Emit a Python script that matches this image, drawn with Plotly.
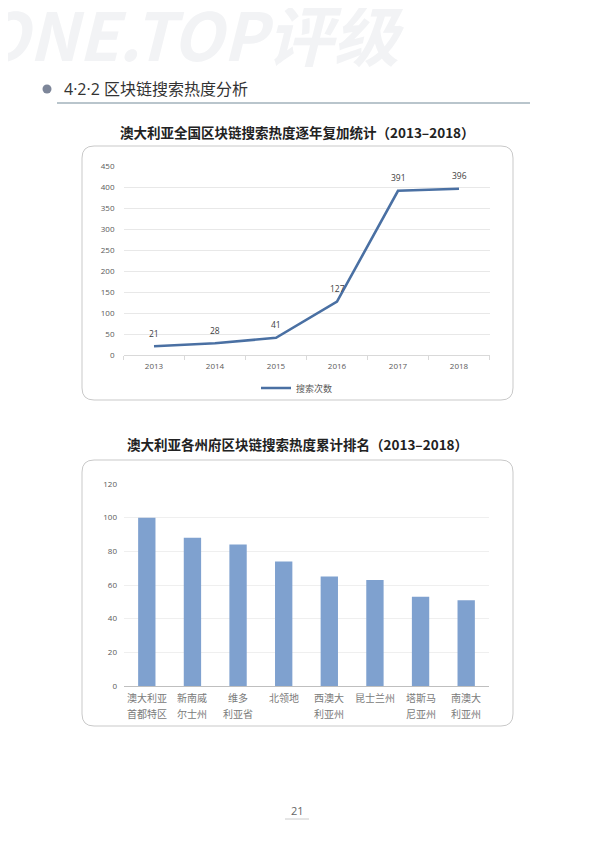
import plotly.graph_objects as go

W, H = 595, 841
OFF = 8  # page body margin of the browser

# ---- data ----
years = ["2013", "2014", "2015", "2016", "2017", "2018"]
searches = [21, 28, 41, 127, 391, 396]
line_yticks = [0, 50, 100, 150, 200, 250, 300, 350, 400, 450]

states = ["澳大利亚首都特区", "新南威尔士州", "维多利亚省", "北领地",
          "西澳大利亚州", "昆士兰州", "塔斯马尼亚州", "南澳大利亚州"]
state_label_lines = [["澳大利亚", "首都特区"], ["新南威", "尔士州"], ["维多", "利亚省"],
                     ["北领地"], ["西澳大", "利亚州"], ["昆士兰州"],
                     ["塔斯马", "尼亚州"], ["南澳大", "利亚州"]]
state_values = [100, 88, 84, 74, 65, 63, 53, 51]
bar_yticks = [0, 20, 40, 60, 80, 100, 120]

FONT = "Noto Sans CJK SC"
LATIN = "Open Sans, Noto Sans CJK SC"

def px(x):
    return (x - OFF) / W

def py(y):
    return 1 - (y - OFF) / H

def rounded_rect(x0, y0, x1, y1, r):
    rx, ry = r / W, r / H
    X0, X1 = px(x0), px(x1)
    Y0, Y1 = py(y0), py(y1)
    return (f"M {X0+rx},{Y0} L {X1-rx},{Y0} Q {X1},{Y0} {X1},{Y0-ry} "
            f"L {X1},{Y1+ry} Q {X1},{Y1} {X1-rx},{Y1} "
            f"L {X0+rx},{Y1} Q {X0},{Y1} {X0},{Y1+ry} "
            f"L {X0},{Y0-ry} Q {X0},{Y0} {X0+rx},{Y0} Z")

fig = go.Figure()

fig.add_trace(go.Scatter(
    x=years, y=searches, mode="lines", name="搜索次数",
    line=dict(color="#4a70a3", width=2.6),
    xaxis="x", yaxis="y", showlegend=True,
))

fig.add_trace(go.Bar(
    x=states, y=state_values, marker=dict(color="#7fa1cf", line=dict(width=0)),
    xaxis="x2", yaxis="y2", showlegend=False,
))

annotations = []
for i, v in enumerate(searches):
    annotations.append(dict(x=i, y=v, xref="x", yref="y", text=str(v),
                            showarrow=False, yshift=13,
                            font=dict(family=LATIN, size=8.5, color="#404040")))

# category labels of the bar chart (two lines, wider line spacing)
for name, lines in zip(states, state_label_lines):
    for k, ln in enumerate(lines):
        annotations.append(dict(x=name, y=0, xref="x2", yref="y2", text=ln,
                                showarrow=False, xanchor="center", yanchor="middle",
                                yshift=-11 - 16 * k,
                                font=dict(family=FONT, size=10, color="#7a7a7a")))

# watermark
annotations.append(dict(x=px(-24), y=py(32), xref="paper", yref="paper",
                        xanchor="left", yanchor="middle", showarrow=False,
                        text="<b><i>ONE.TOP评级</i></b>",
                        font=dict(family=FONT, size=66, color="#f2f3f5")))
# heading
annotations.append(dict(x=px(62), y=py(89), xref="paper", yref="paper",
                        xanchor="left", yanchor="middle", showarrow=False,
                        text="4·2·2 区块链搜索热度分析",
                        font=dict(family=LATIN, size=16, color="#333333")))
# chart titles
annotations.append(dict(x=px(297), y=py(132), xref="paper", yref="paper",
                        xanchor="center", yanchor="middle", showarrow=False,
                        text="<b>澳大利亚全国区块链搜索热度逐年复加统计（2013–2018）</b>",
                        font=dict(family=FONT, size=13.5, color="#222222")))
annotations.append(dict(x=px(297), y=py(444), xref="paper", yref="paper",
                        xanchor="center", yanchor="middle", showarrow=False,
                        text="<b>澳大利亚各州府区块链搜索热度累计排名（2013–2018）</b>",
                        font=dict(family=FONT, size=13.5, color="#222222")))
# page number
annotations.append(dict(x=px(297), y=py(810), xref="paper", yref="paper",
                        xanchor="center", yanchor="middle", showarrow=False,
                        text="21", font=dict(family=LATIN, size=11, color="#666666")))

shapes = [
    dict(type="circle", xref="paper", yref="paper",
         x0=px(42.5), x1=px(51.5), y0=py(84.5), y1=py(93.5),
         fillcolor="#7d8699", line=dict(width=0)),
    dict(type="line", xref="paper", yref="paper",
         x0=px(57), x1=px(530), y0=py(103), y1=py(103),
         line=dict(color="#b9c5cc", width=2)),
    dict(type="path", xref="paper", yref="paper",
         path=rounded_rect(82, 146, 513, 400, 12),
         line=dict(color="#c9c9c9", width=1), layer="below"),
    dict(type="path", xref="paper", yref="paper",
         path=rounded_rect(82, 460, 513, 726, 12),
         line=dict(color="#c9c9c9", width=1), layer="below"),
    dict(type="line", xref="paper", yref="paper",
         x0=px(285), x1=px(309), y0=py(819), y1=py(819),
         line=dict(color="#cccccc", width=1)),
]

tickfont_small = dict(family=LATIN, size=8, color="#595959")

fig.update_layout(
    template="none",
    width=W, height=H, margin=dict(l=0, r=0, t=0, b=0, autoexpand=False),
    paper_bgcolor="white", plot_bgcolor="rgba(0,0,0,0)",
    font=dict(family=FONT),
    annotations=annotations, shapes=shapes,
    bargap=0.62,
    legend=dict(x=px(297), y=py(388), xanchor="center", yanchor="middle",
                orientation="h", font=dict(family=FONT, size=9, color="#595959"),
                bgcolor="rgba(0,0,0,0)", itemwidth=30),
    xaxis=dict(domain=[px(123.5), px(489.5)], anchor="y", type="category",
               range=[-0.5, len(years) - 0.5], automargin=False,
               showgrid=False, showline=True, linecolor="#d9d9d9", linewidth=1,
               ticks="outside", tickson="boundaries", ticklen=4, tickcolor="#d9d9d9",
               tickfont=tickfont_small, tickangle=0, ticklabelstandoff=3,
               fixedrange=True),
    yaxis=dict(domain=[py(355), py(166)], anchor="x", range=[0, 450],
               automargin=False, tickvals=line_yticks, showgrid=True,
               gridcolor="#e8e8e8", gridwidth=1, ticks="",
               zeroline=False, showline=False, tickfont=tickfont_small,
               ticklabelstandoff=8),
    xaxis2=dict(domain=[px(124), px(489)], anchor="y2", type="category",
                range=[-0.5, len(states) - 0.5], automargin=False,
                showgrid=False, showline=True, linecolor="#bfbfbf", linewidth=1.2,
                ticks="", showticklabels=False),
    yaxis2=dict(domain=[py(686), py(484)], anchor="x2", range=[0, 120],
                automargin=False, tickvals=bar_yticks, showgrid=True,
                gridcolor="#efefef", gridwidth=1, ticks="",
                zeroline=False, showline=False, tickfont=tickfont_small,
                ticklabelstandoff=6),
)

fig.write_html("out.html")
